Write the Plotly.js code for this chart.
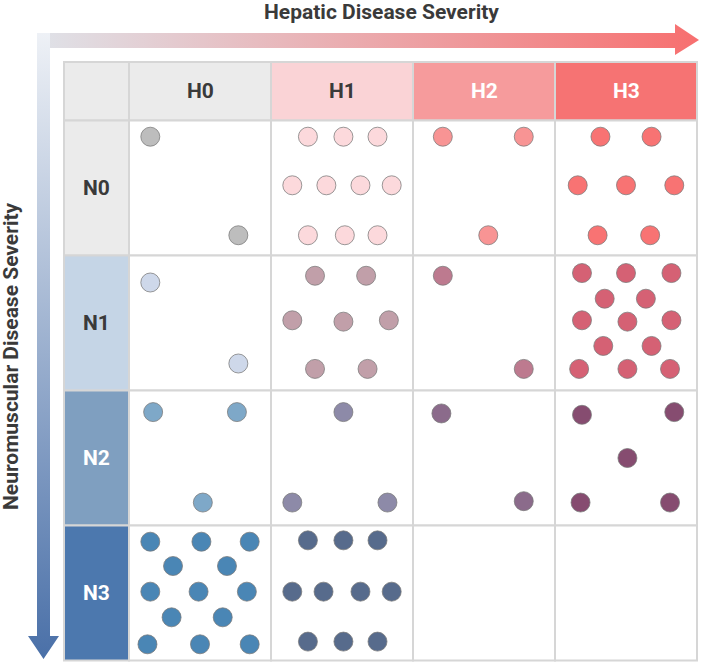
<!DOCTYPE html>
<html>
<head>
<meta charset="utf-8">
<script src="https://cdn.plot.ly/plotly-3.0.1.min.js"></script>
<style>
  body { margin: 0; background: #fff; }
  #chart { width: 702px; height: 663px; }
</style>
</head>
<body>
<div id="chart"></div>
<script>
// categories
const hepatic = ['H0', 'H1', 'H2', 'H3'];
const neuro = ['N0', 'N1', 'N2', 'N3'];

// each dot: its cell (neuro row, hepatic column) and where it sits inside the cell (0..1)
const dotNeuro = [
  'N0','N0',
  'N0','N0','N0','N0','N0','N0','N0','N0','N0','N0',
  'N0','N0','N0',
  'N0','N0','N0','N0','N0','N0','N0',
  'N1','N1',
  'N1','N1','N1','N1','N1','N1','N1',
  'N1','N1',
  'N1','N1','N1','N1','N1','N1','N1','N1','N1','N1','N1','N1','N1',
  'N2','N2','N2',
  'N2','N2','N2',
  'N2','N2',
  'N2','N2','N2','N2','N2',
  'N3','N3','N3','N3','N3','N3','N3','N3','N3','N3','N3','N3','N3',
  'N3','N3','N3','N3','N3','N3','N3','N3','N3','N3'
];
const dotHepatic = [
  'H0','H0',
  'H1','H1','H1','H1','H1','H1','H1','H1','H1','H1',
  'H2','H2','H2',
  'H3','H3','H3','H3','H3','H3','H3',
  'H0','H0',
  'H1','H1','H1','H1','H1','H1','H1',
  'H2','H2',
  'H3','H3','H3','H3','H3','H3','H3','H3','H3','H3','H3','H3','H3',
  'H0','H0','H0',
  'H1','H1','H1',
  'H2','H2',
  'H3','H3','H3','H3','H3',
  'H0','H0','H0','H0','H0','H0','H0','H0','H0','H0','H0','H0','H0',
  'H1','H1','H1','H1','H1','H1','H1','H1','H1','H1'
];
const dotX = [
  0.15, 0.77,
  0.26, 0.51, 0.75, 0.15, 0.39, 0.63, 0.85, 0.26, 0.52, 0.75,
  0.21, 0.78, 0.53,
  0.32, 0.68, 0.16, 0.50, 0.84, 0.30, 0.67,
  0.15, 0.77,
  0.31, 0.67, 0.15, 0.51, 0.83, 0.31, 0.68,
  0.21, 0.78,
  0.19, 0.50, 0.82, 0.35, 0.64, 0.19, 0.51, 0.82, 0.34, 0.68, 0.17, 0.51, 0.81,
  0.17, 0.76, 0.52,
  0.51, 0.15, 0.82,
  0.20, 0.78,
  0.19, 0.84, 0.51, 0.18, 0.81,
  0.15, 0.51, 0.85, 0.31, 0.69, 0.15, 0.49, 0.83, 0.30, 0.66, 0.13, 0.50, 0.85,
  0.26, 0.51, 0.75, 0.15, 0.37, 0.63, 0.85, 0.26, 0.51, 0.75
];
const dotY = [
  0.12, 0.85,
  0.12, 0.12, 0.12, 0.48, 0.48, 0.48, 0.48, 0.85, 0.85, 0.85,
  0.12, 0.12, 0.85,
  0.12, 0.12, 0.48, 0.48, 0.48, 0.85, 0.85,
  0.20, 0.80,
  0.15, 0.15, 0.48, 0.49, 0.48, 0.84, 0.84,
  0.15, 0.84,
  0.13, 0.13, 0.13, 0.32, 0.32, 0.48, 0.49, 0.48, 0.67, 0.67, 0.84, 0.84, 0.84,
  0.16, 0.16, 0.83,
  0.16, 0.83, 0.83,
  0.17, 0.82,
  0.18, 0.16, 0.50, 0.83, 0.83,
  0.12, 0.12, 0.12, 0.30, 0.30, 0.49, 0.49, 0.49, 0.68, 0.68, 0.88, 0.88, 0.88,
  0.11, 0.11, 0.11, 0.49, 0.49, 0.49, 0.49, 0.86, 0.86, 0.86
];

// styling
const hepaticFill = ['#ebebeb', '#fad3d6', '#f69b9c', '#f67373'];
const hepaticText = ['#3a3a3a', '#3a3a3a', '#ffffff', '#ffffff'];
const neuroFill = ['#ebebeb', '#c5d5e6', '#7f9fc0', '#4c78ae'];
const neuroText = ['#3a3a3a', '#3a3a3a', '#ffffff', '#ffffff'];
const dotColor = {
  N0H0: '#bdbdbd', N0H1: '#fcd9dc', N0H2: '#f89494', N0H3: '#f87373',
  N1H0: '#ced8ea', N1H1: '#c19fa9', N1H2: '#bd7a8f', N1H3: '#d56174',
  N2H0: '#7ea8c8', N2H1: '#8d8aa8', N2H2: '#8b6b8b', N2H3: '#864c70',
  N3H0: '#4a86b5', N3H1: '#576b8c'
};
const gridLine = '#d6d6d6';
const textDark = '#3a3a3a';
const fontFam = 'Roboto, "Liberation Sans", sans-serif';

// page pixel -> axis units (one unit = one cell)
const X = (px) => (px - 129) / 142;
const Y = (py) => (py - 120.5) / 135;
const hdrLeft = X(64), hdrTop = Y(62);

const shapes = [];
const annotations = [];

// corner + header row + header column
shapes.push({type: 'rect', x0: hdrLeft, x1: 0, y0: hdrTop, y1: 0,
  fillcolor: '#ebebeb', line: {color: gridLine, width: 2}, layer: 'below'});
hepatic.forEach((h, i) => {
  shapes.push({type: 'rect', x0: i, x1: i + 1, y0: hdrTop, y1: 0,
    fillcolor: hepaticFill[i], line: {color: gridLine, width: 2}, layer: 'below'});
  annotations.push({x: i + 0.5, y: hdrTop / 2, text: h, showarrow: false,
    font: {family: fontFam, size: 21, weight: 'bold', color: hepaticText[i]}});
});
neuro.forEach((n, j) => {
  shapes.push({type: 'rect', x0: hdrLeft, x1: 0, y0: j, y1: j + 1,
    fillcolor: neuroFill[j], line: {color: gridLine, width: 2}, layer: 'below'});
  annotations.push({x: hdrLeft / 2, y: j + 0.5, text: n, showarrow: false,
    font: {family: fontFam, size: 21, weight: 'bold', color: neuroText[j]}});
  hepatic.forEach((h, i) => {
    shapes.push({type: 'rect', x0: i, x1: i + 1, y0: j, y1: j + 1,
      fillcolor: '#ffffff', line: {color: gridLine, width: 2}, layer: 'below'});
  });
});

// axis titles
annotations.push({x: X(381), y: Y(12), text: 'Hepatic Disease Severity', showarrow: false,
  font: {family: fontFam, size: 21, weight: 'bold', color: textDark}});
annotations.push({x: X(11), y: Y(356), text: 'Neuromuscular Disease Severity', showarrow: false,
  textangle: -90, font: {family: fontFam, size: 21, weight: 'bold', color: textDark}});

const traces = [];

// gradient arrows
const hArrowX = [38, 675, 675, 699, 675, 675, 38, 38].map(X);
const hArrowY = [33, 33, 24, 40, 55, 48, 48, 33].map(Y);
traces.push({x: hArrowX, y: hArrowY, type: 'scatter', mode: 'lines', fill: 'toself',
  line: {width: 0}, hoverinfo: 'skip', showlegend: false,
  fillgradient: {type: 'horizontal', colorscale: [[0, '#dfe2e8'], [1, '#f76f6f']]}});
const vArrowX = [37, 50, 50, 59, 43.5, 28, 37, 37].map(X);
const vArrowY = [33, 33, 636, 636, 659, 636, 636, 33].map(Y);
traces.push({x: vArrowX, y: vArrowY, type: 'scatter', mode: 'lines', fill: 'toself',
  line: {width: 0}, hoverinfo: 'skip', showlegend: false,
  fillgradient: {type: 'vertical', colorscale: [[0, '#4a70a8'], [1, '#eef1f6']]}});

// dots, one trace per cell
Object.keys(dotColor).forEach((key) => {
  const xs = [], ys = [];
  for (let k = 0; k < dotX.length; k++) {
    if (dotNeuro[k] + dotHepatic[k] === key) {
      xs.push(hepatic.indexOf(dotHepatic[k]) + dotX[k]);
      ys.push(neuro.indexOf(dotNeuro[k]) + dotY[k]);
    }
  }
  traces.push({x: xs, y: ys, type: 'scatter', mode: 'markers', name: key,
    showlegend: false, hoverinfo: 'skip',
    marker: {size: 19, color: dotColor[key], line: {color: 'rgba(120,120,120,0.75)', width: 1}}});
});

const layout = {
  width: 702, height: 663,
  margin: {l: 0, r: 0, t: 0, b: 0},
  paper_bgcolor: '#ffffff', plot_bgcolor: '#ffffff',
  xaxis: {range: [X(0), X(702)], visible: false, fixedrange: true},
  yaxis: {range: [Y(663), Y(0)], visible: false, fixedrange: true},
  shapes: shapes,
  annotations: annotations,
  showlegend: false
};

Plotly.newPlot('chart', traces, layout, {displayModeBar: false, staticPlot: true});
</script>
</body>
</html>
